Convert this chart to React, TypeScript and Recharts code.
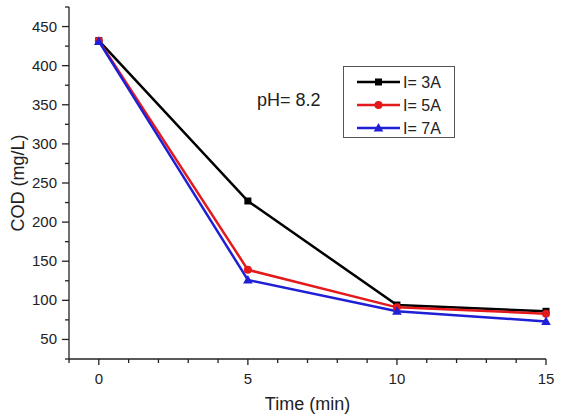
import { LineChart, Line, XAxis, YAxis, Label } from "recharts";

// sampling times (min) and COD readings (mg/L) for each current
const times = [0, 5, 10, 15];
const cod3A = [432, 227, 94, 86];
const cod5A = [432, 139, 91, 83];
const cod7A = [431, 126, 86, 73];

const seriesNames = ["I= 3A", "I= 5A", "I= 7A"];
const seriesColors = ["#000000", "#e3191c", "#1f1fd6"];
const seriesShapes = ["square", "circle", "triangle"];

const xTicks = [-1, 0, 1, 2, 3, 4, 5, 6, 7, 8, 9, 10, 11, 12, 13, 14, 15];
const yTicks = [25, 50, 75, 100, 125, 150, 175, 200, 225, 250, 275, 300, 325, 350, 375, 400, 425, 450, 475];

const FONT = "'Liberation Sans', Arial, sans-serif";
const INK = "#222";

const data = times.map((t, i) => ({
  time: t,
  s0: cod3A[i],
  s1: cod5A[i],
  s2: cod7A[i],
}));

function marker(shape: string, cx: number, cy: number, color: string, key?: string) {
  if (shape === "square") {
    return <rect key={key} x={cx - 3.5} y={cy - 3.5} width={7} height={7} fill={color} />;
  }
  if (shape === "circle") {
    return <circle key={key} cx={cx} cy={cy} r={4} fill={color} />;
  }
  return (
    <polygon
      key={key}
      points={`${cx},${cy - 5} ${cx - 4.8},${cy + 3.5} ${cx + 4.8},${cy + 3.5}`}
      fill={color}
    />
  );
}

const YTick = (props: any) => {
  const { x, y, payload } = props;
  const major = payload.value % 50 === 0;
  const len = major ? 7 : 4;
  return (
    <g>
      <line x1={x - len} x2={x} y1={y} y2={y} stroke={INK} strokeWidth={1.3} />
      {major && (
        <text x={x - 12} y={y + 5} textAnchor="end" fontSize={15} fill={INK} fontFamily={FONT}>
          {payload.value}
        </text>
      )}
    </g>
  );
};

const XTick = (props: any) => {
  const { x, y, payload } = props;
  const major = payload.value % 5 === 0;
  const len = major ? 6 : 4;
  return (
    <g>
      <line x1={x} x2={x} y1={y} y2={y + len} stroke={INK} strokeWidth={1.3} />
      {major && (
        <text x={x} y={y + 25} textAnchor="middle" fontSize={15} fill={INK} fontFamily={FONT}>
          {payload.value}
        </text>
      )}
    </g>
  );
};

function ChartLegend() {
  const rows = [16, 39, 62];
  return (
    <svg
      width={113}
      height={73}
      style={{ position: "absolute", left: 343, top: 66 }}
    >
      <rect x={0.5} y={0.5} width={111} height={71} fill="#fff" stroke="#555" strokeWidth={1} />
      {seriesNames.map((name, i) => (
        <g key={name}>
          <line x1={14} x2={57} y1={rows[i]} y2={rows[i]} stroke={seriesColors[i]} strokeWidth={2.5} />
          {marker(seriesShapes[i], 35.5, rows[i], seriesColors[i])}
          <text x={60} y={rows[i] + 6} fontSize={16} fill={INK} fontFamily={FONT}>
            {name}
          </text>
        </g>
      ))}
    </svg>
  );
}

export default function App() {
  return (
    <div
      style={{
        position: "absolute",
        left: 0,
        top: 0,
        width: 561,
        height: 414,
        background: "#fff",
        fontFamily: FONT,
      }}
    >
      <LineChart
        width={561}
        height={414}
        data={data}
        margin={{ top: 7, right: 15, bottom: 0, left: 0 }}
      >
        <XAxis
          dataKey="time"
          type="number"
          domain={[-1, 15]}
          ticks={xTicks}
          interval={0}
          height={55}
          tickSize={0}
          tickMargin={0}
          tick={<XTick />}
          axisLine={{ stroke: INK, strokeWidth: 1.3 }}
          tickLine={false}
        >
          <Label
            value="Time (min)"
            position="insideBottom"
            offset={4}
            fontSize={18}
            fill={INK}
            fontFamily={FONT}
          />
        </XAxis>
        <YAxis
          type="number"
          domain={[25, 475]}
          ticks={yTicks}
          interval={0}
          width={69}
          tickSize={0}
          tickMargin={0}
          tick={<YTick />}
          axisLine={{ stroke: INK, strokeWidth: 1.3 }}
          tickLine={false}
        >
          <Label
            value="COD (mg/L)"
            angle={-90}
            position="insideLeft"
            offset={18}
            fontSize={18}
            fill={INK}
            fontFamily={FONT}
            style={{ textAnchor: "middle" }}
          />
        </YAxis>
        {seriesNames.map((name, i) => (
          <Line
            key={name}
            name={name}
            dataKey={`s${i}`}
            type="linear"
            stroke={seriesColors[i]}
            strokeWidth={2.5}
            isAnimationActive={false}
            dot={(p: any) => marker(seriesShapes[i], p.cx, p.cy, seriesColors[i], `${name}-${p.index}`)}
            activeDot={false}
          />
        ))}
      </LineChart>
      <div
        style={{
          position: "absolute",
          left: 257,
          top: 90,
          fontSize: 18,
          color: INK,
          lineHeight: "20px",
        }}
      >
        pH= 8.2
      </div>
      <ChartLegend />
    </div>
  );
}
